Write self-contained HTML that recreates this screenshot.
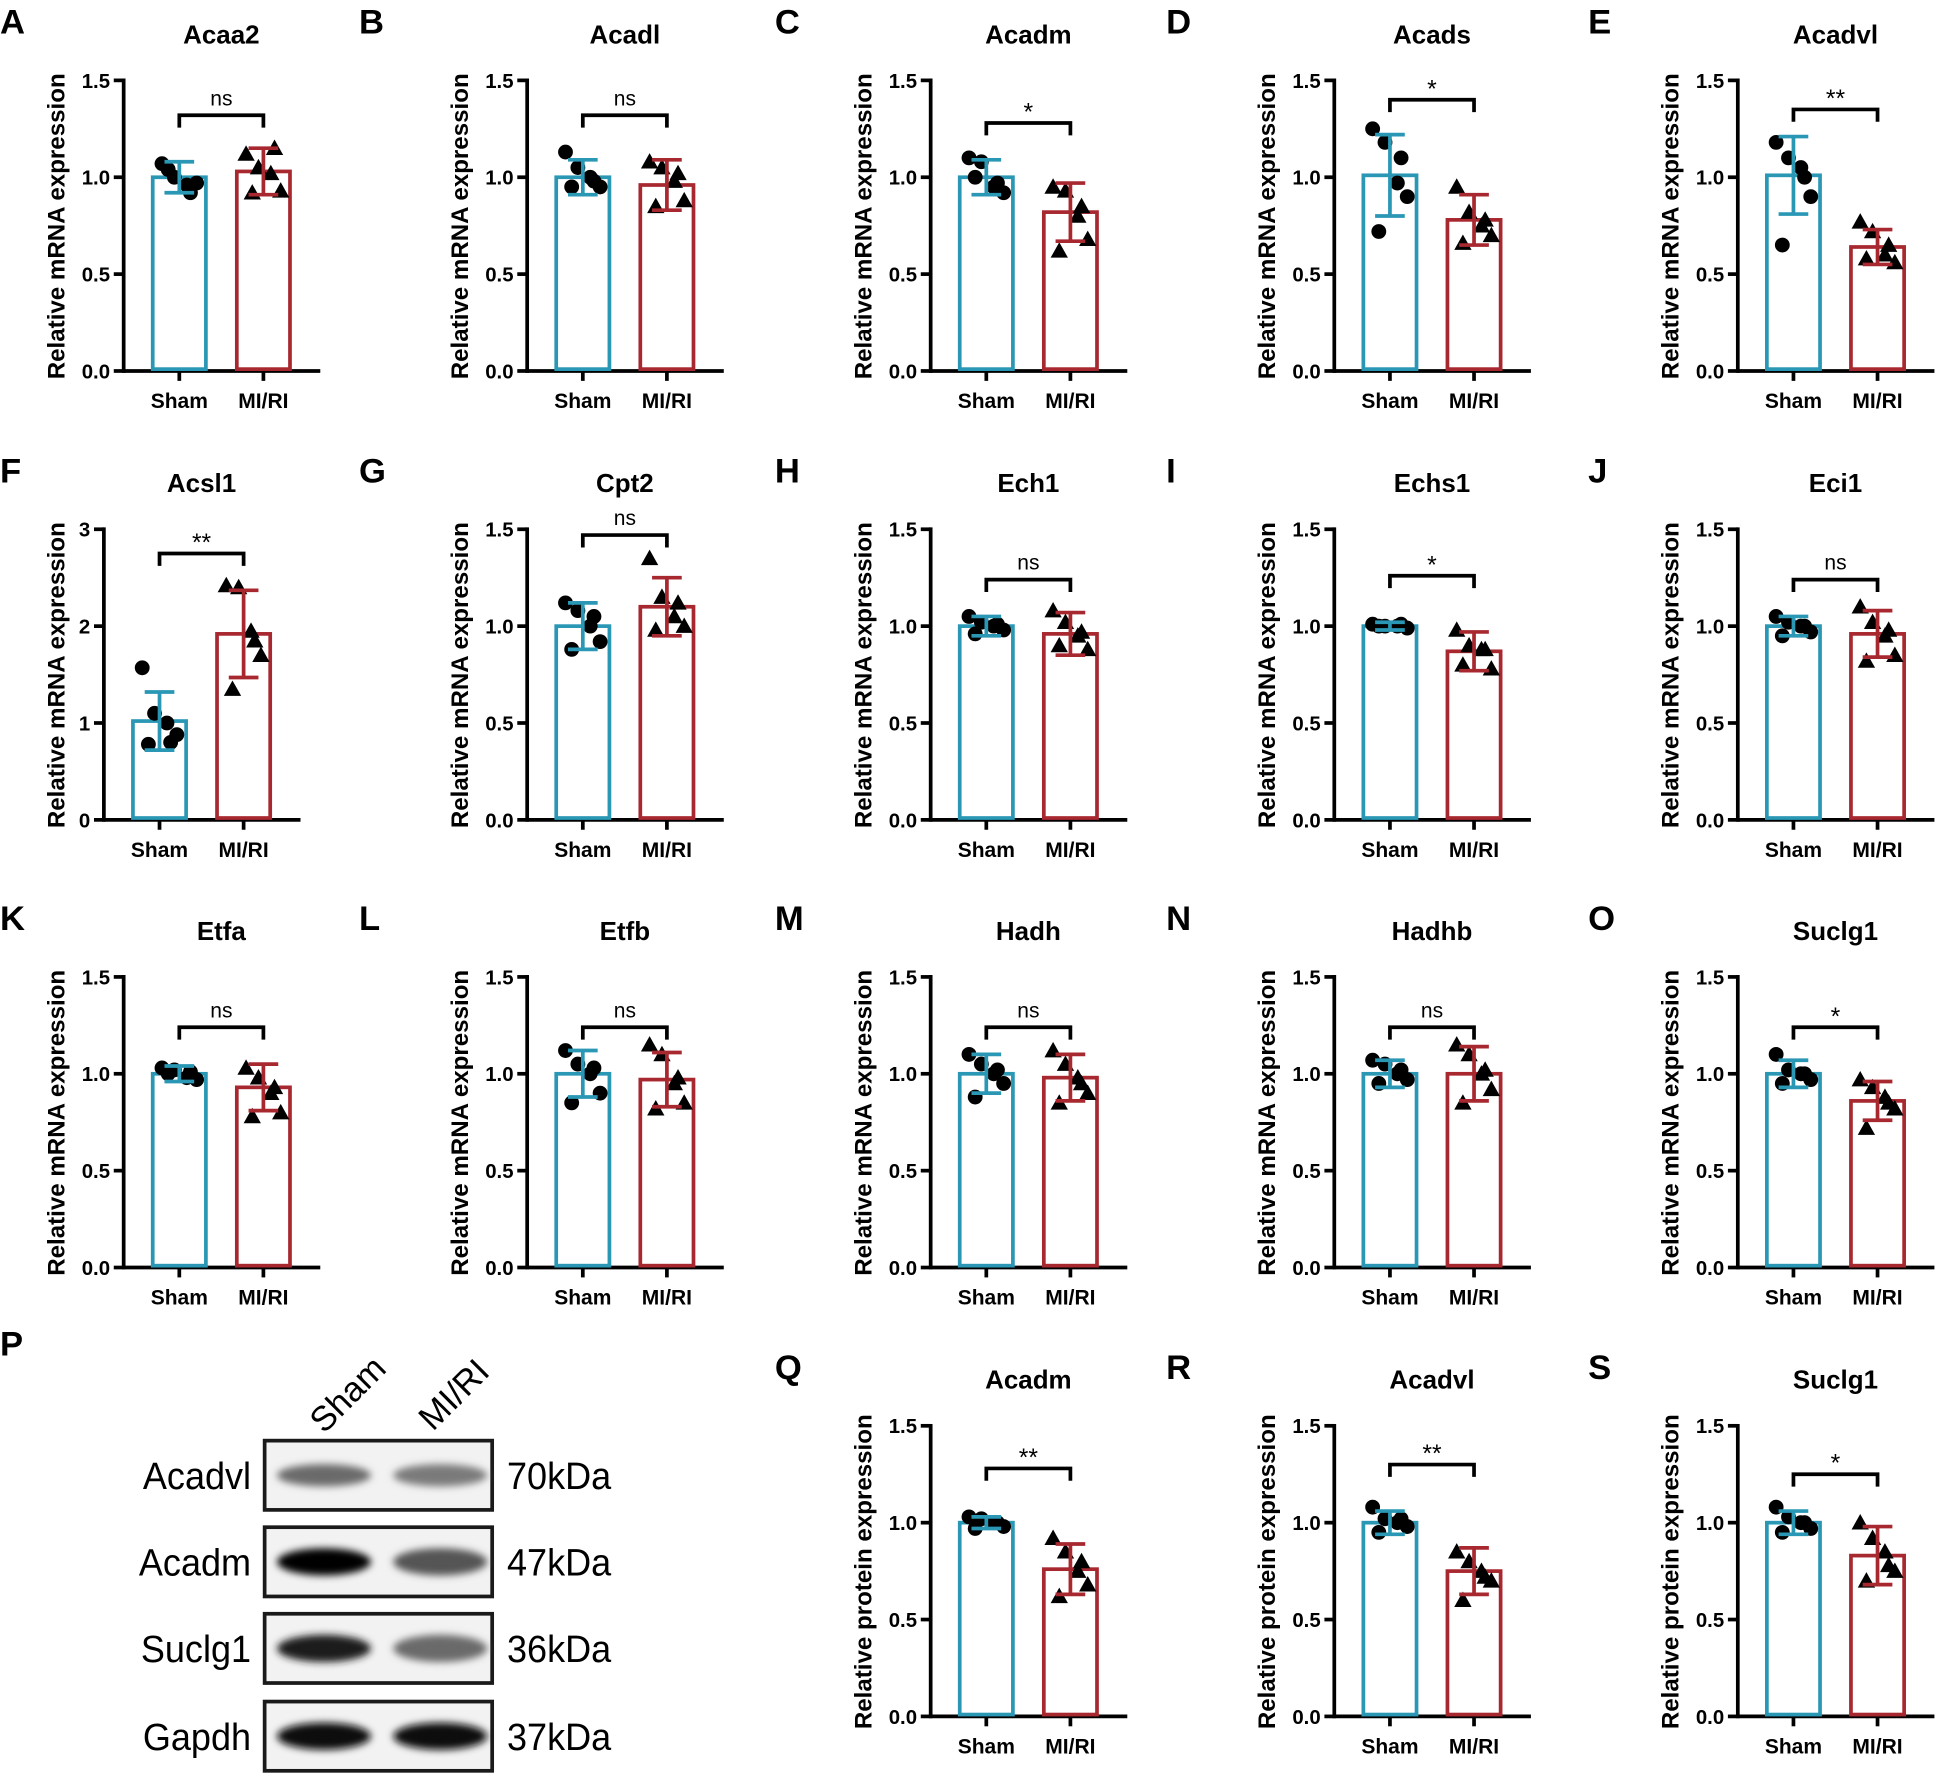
<!DOCTYPE html>
<html><head><meta charset="utf-8"><style>
html,body{margin:0;padding:0;background:#fff;}
svg{display:block;font-family:"Liberation Sans",Arial,sans-serif;}
</style></head><body>
<svg id="fig" width="1939" height="1777" viewBox="0 0 1568 1437" xmlns="http://www.w3.org/2000/svg">
<defs><filter id="blur" x="-20%" y="-50%" width="140%" height="200%"><feGaussianBlur stdDeviation="3"/></filter></defs>
<g id="blot">
  <text x="0" y="1096" font-size="28" font-weight="bold">P</text>
  <text transform="translate(262,1160) rotate(-45)" font-size="28">Sham</text>
  <text transform="translate(350,1158) rotate(-45)" font-size="28">MI/RI</text>
</g>
</svg>
<script>
const NS='http://www.w3.org/2000/svg';
const svg=document.getElementById('fig');
const panelLetters=['A','B','C','D','E','F','G','H','I','J','K','L','M','N','O','Q','R','S'];
const panelTitles=['Acaa2','Acadl','Acadm','Acads','Acadvl','Acsl1','Cpt2','Ech1','Echs1','Eci1','Etfa','Etfb','Hadh','Hadhb','Suclg1','Acadm','Acadvl','Suclg1'];
const shamMeans=[1.0,1.0,1.0,1.01,1.01,1.02,1.0,1.0,1.0,1.0,1.0,1.0,1.0,1.0,1.0,1.0,1.0,1.0];
const shamSD=[0.08,0.09,0.09,0.21,0.2,0.3,0.12,0.05,0.02,0.05,0.04,0.12,0.1,0.07,0.07,0.03,0.06,0.06];
const miMeans=[1.03,0.96,0.82,0.78,0.64,1.92,1.1,0.96,0.87,0.96,0.93,0.97,0.98,1.0,0.86,0.76,0.75,0.83];
const miSD=[0.12,0.13,0.15,0.13,0.09,0.45,0.15,0.11,0.1,0.12,0.12,0.14,0.12,0.14,0.1,0.13,0.12,0.15];
const shamPts=[[1.07,1.0,0.96,0.97,1.04,0.92],[1.13,1.05,1.0,0.95,0.95,0.98],[1.1,1.08,0.95,0.92,1.0,0.97],[1.25,1.18,0.97,0.9,0.72,1.1],[1.18,1.1,1.05,0.9,0.65,1.0],[1.57,1.1,1.0,0.88,0.78,0.8],[1.12,1.08,1.0,0.92,0.88,1.05],[1.05,1.02,1.0,0.98,0.96,1.01],[1.01,1.0,1.0,0.99,1.0,1.01],[1.05,1.02,1.0,0.97,0.95,1.0],[1.03,1.02,0.98,0.97,1.0,1.01],[1.12,1.05,1.0,0.9,0.85,1.03],[1.1,1.05,1.0,0.95,0.88,1.02],[1.07,1.05,1.0,0.97,0.95,1.02],[1.1,1.02,1.0,0.97,0.95,1.0],[1.03,1.02,1.0,0.98,0.97,1.0],[1.08,1.02,1.0,0.98,0.95,1.02],[1.08,1.03,1.0,0.97,0.95,1.0]];
const miPts=[[1.12,1.05,1.02,0.93,0.92,1.15],[1.08,1.05,0.98,0.88,0.85,1.02],[0.95,0.93,0.8,0.68,0.62,0.85],[0.95,0.82,0.75,0.7,0.66,0.78],[0.77,0.72,0.6,0.56,0.58,0.65],[2.42,2.4,1.95,1.7,1.35,1.85],[1.35,1.15,1.05,1.0,0.98,1.12],[1.08,1.02,0.95,0.88,0.9,0.97],[0.98,0.9,0.88,0.78,0.8,0.88],[1.1,1.02,0.95,0.85,0.82,0.98],[1.03,0.98,0.9,0.8,0.78,0.93],[1.15,1.1,0.95,0.85,0.82,0.98],[1.12,1.05,0.98,0.9,0.85,0.95],[1.15,1.1,1.0,0.92,0.85,1.02],[0.97,0.93,0.88,0.82,0.72,0.85],[0.92,0.85,0.75,0.68,0.62,0.8],[0.85,0.8,0.75,0.7,0.6,0.72],[1.0,0.92,0.85,0.75,0.7,0.78]];
const sigLabels=['ns','ns','*','*','**','**','ns','ns','*','ns','ns','ns','ns','ns','*','**','**','*'];
const bracketVals=[1.32,1.32,1.28,1.4,1.35,2.75,1.47,1.24,1.26,1.24,1.24,1.24,1.24,1.24,1.24,1.28,1.3,1.25];
const yMaxes=[1.5,1.5,1.5,1.5,1.5,3,1.5,1.5,1.5,1.5,1.5,1.5,1.5,1.5,1.5,1.5,1.5,1.5];
const tickSets=[['0.0','0.5','1.0','1.5'],['0','1','2','3']];
const categories=['Sham','MI/RI'];
const jitter=[-14,-4,6,14,-9,9];

const colX=[0,326.3,652.6,979,1305.3];
const letterOff=[0,-36,-26,-36,-21];
const rowY=[0,363,725,1088];
function el(tag,attrs,parent,text){const e=document.createElementNS(NS,tag);for(const k in attrs)e.setAttribute(k,attrs[k]);if(text!==undefined)e.textContent=text;(parent||svg).appendChild(e);return e;}

for(let i=0;i<18;i++){
  let col,row;
  if(i<15){col=i%5;row=Math.floor(i/5);}else{col=i-13;row=3;}
  const px=colX[col],py=rowY[row];
  const sh=(i===5)?-16:0;
  const g=el('g',{});
  
  
  const ax=px+100+sh, top=py+65, bot=py+300, H=bot-top;
  const ymax=yMaxes[i];
  const Y=v=>bot-v/ymax*H;
  const xS=px+145+sh, xM=px+213+sh, bw=43;
  const lt=el('text',{x:px+letterOff[col],y:py+27,'font-size':28,'font-weight':'bold'},g,panelLetters[i]);
  
  
  const tt=el('text',{x:px+179+sh,y:py+35,'font-size':21,'font-weight':'bold','text-anchor':'middle'},g,panelTitles[i]);
  
  
  const yl=el('text',{transform:`translate(${px+52},${py+183}) rotate(-90)`,'font-size':19.5,'font-weight':'bold','text-anchor':'middle'},g,i>=15?'Relative protein expression':'Relative mRNA expression');
  
  
  const ticks=ymax===3?tickSets[1]:tickSets[0];
  ticks.forEach((t,k)=>{const v=ymax*k/(ticks.length-1);
    el('line',{x1:ax-8,x2:ax,y1:Y(v),y2:Y(v),stroke:'#000','stroke-width':3},g);
    const tl=el('text',{x:ax-11,y:Y(v)+6,'font-size':16.5,'font-weight':'bold','text-anchor':'end'},g,t);
    
    
  });
  const yaxis=el('line',{x1:ax,x2:ax,y1:top-1.5,y2:bot+1.5,stroke:'#000','stroke-width':3},g);
  
  
  const xaxis=el('line',{x1:ax,x2:px+259+sh,y1:bot,y2:bot,stroke:'#000','stroke-width':3},g);
  
  
  [xS,xM].forEach((cx,k)=>{
    el('line',{x1:cx,x2:cx,y1:bot,y2:bot+8,stroke:'#000','stroke-width':3},g);
    const cl=el('text',{x:cx,y:bot+30,'font-size':17,'font-weight':'bold','text-anchor':'middle'},g,categories[k]);
    
    
  });
  const groups=[[xS,shamMeans[i],shamSD[i],shamPts[i],'#2a97b5','sham'],[xM,miMeans[i],miSD[i],miPts[i],'#a82830','miri']];
  groups.forEach(([cx,m,sd,pts,c,nm])=>{
    const b=el('rect',{x:cx-bw/2,y:Y(m),width:bw,height:bot-Y(m)-1.5,fill:'none',stroke:c,'stroke-width':3},g);
    
    
    pts.forEach((p,k)=>{
      const x=cx+jitter[k],y=Y(p);
      let mk;
      if(nm==='sham') mk=el('circle',{cx:x,cy:y,r:6,fill:'#000'},g);
      else mk=el('polygon',{points:`${x},${y-7} ${x-7},${y+5.5} ${x+7},${y+5.5}`,fill:'#000'},g);
      
      
    });
    const e=el('path',{d:`M${cx},${Y(m+sd)}V${Y(m-sd)}M${cx-12},${Y(m+sd)}H${cx+12}M${cx-12},${Y(m-sd)}H${cx+12}`,stroke:c,'stroke-width':3,fill:'none'},g);
    
    
  });
  const by=Y(bracketVals[i]);
  const br=el('path',{d:`M${xS},${by+10}V${by}H${xM}V${by+10}`,stroke:'#000','stroke-width':3,fill:'none'},g);
  
  
  const sl=el('text',{x:(xS+xM)/2,y:sigLabels[i]==='ns'?by-8:by-2,'font-size':sigLabels[i]==='ns'?17:20,'text-anchor':'middle'},g,sigLabels[i]);
  
  
}

const blotRows=['Acadvl','Acadm','Suclg1','Gapdh'];
const blotKDa=['70kDa','47kDa','36kDa','37kDa'];
const shamBand=['#6a6a6a','#050505','#1a1a1a','#0a0a0a'];
const miBand=['#7a7a7a','#555','#6a6a6a','#0a0a0a'];
const blot=document.getElementById('blot');
const rowTops=[1165,1235,1305,1376];
const sx=0.94;
blotRows.forEach((name,k)=>{
  const t=rowTops[k];
  const r=el('rect',{x:214,y:t,width:184,height:56,fill:'#f2f2f2',stroke:'#1a1a1a','stroke-width':3},blot);
  
  
  const b1=el('ellipse',{cx:262,cy:t+28,rx:38,ry:k===0?9:11,fill:shamBand[k],filter:'url(#blur)'},blot);
  
  
  const b2=el('ellipse',{cx:356,cy:t+28,rx:38,ry:k===0?9:11,fill:miBand[k],filter:'url(#blur)'},blot);
  
  
  const l=el('text',{x:203/sx,y:t+39,'font-size':31,'text-anchor':'end',transform:`scale(${sx},1)`},blot,name);
  
  
  const kd=el('text',{x:410/sx,y:t+39,'font-size':31,transform:`scale(${sx},1)`},blot,blotKDa[k]);
  
  
});
</script>
</body></html>
